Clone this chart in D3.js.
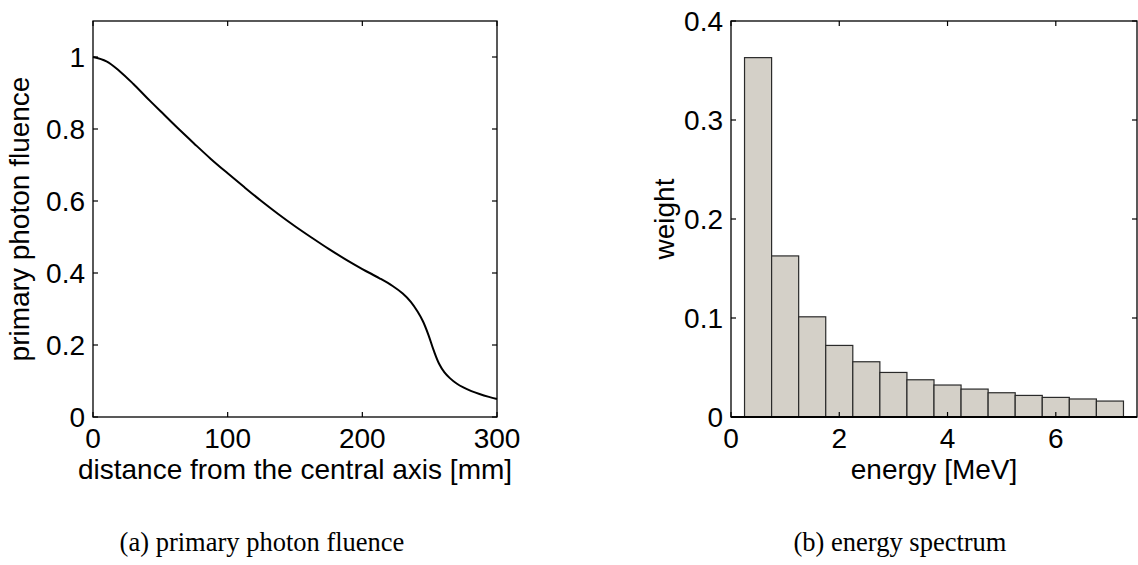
<!DOCTYPE html>
<html><head><meta charset="utf-8">
<script src="https://cdn.jsdelivr.net/npm/d3@7"></script>
<style>
body{margin:0;background:#fff;}
svg{display:block;}
</style></head>
<body><svg id="c" width="1138" height="565"></svg>
<script>
// ---- data: (a) primary photon fluence ----
const distance = [0, 10, 20, 30, 40, 50, 62.5, 75, 87.5, 100, 112.5, 125, 137.5, 150, 162.5, 175, 187.5, 200, 212.5, 222.5, 230, 236, 241, 245, 249, 253, 257, 261, 265, 270, 275, 281, 287, 294, 300];
const fluence  = [1.000, 0.988, 0.960, 0.925, 0.887, 0.850, 0.804, 0.760, 0.717, 0.677, 0.638, 0.600, 0.564, 0.530, 0.498, 0.467, 0.438, 0.411, 0.386, 0.364, 0.343, 0.320, 0.293, 0.266, 0.229, 0.185, 0.148, 0.124, 0.108, 0.093, 0.082, 0.072, 0.064, 0.056, 0.050];
const xTicksA = [0, 100, 200, 300];
const yTicksA = [0, 0.2, 0.4, 0.6, 0.8, 1];
// ---- data: (b) energy spectrum ----
const energy = [0.5, 1.0, 1.5, 2.0, 2.5, 3.0, 3.5, 4.0, 4.5, 5.0, 5.5, 6.0, 6.5, 7.0];
const weight = [0.363, 0.1627, 0.1012, 0.0723, 0.0558, 0.0450, 0.0376, 0.0323, 0.0282, 0.0245, 0.0218, 0.0198, 0.0182, 0.0161];
const xTicksB = [0, 2, 4, 6];
const yTicksB = [0, 0.1, 0.2, 0.3, 0.4];
const binWidth = 0.5;
const labels = {
  ax: "distance from the central axis [mm]", ay: "primary photon fluence",
  bx: "energy [MeV]", by: "weight",
  ca: "(a) primary photon fluence", cb: "(b) energy spectrum"
};

const svg = d3.select("#c");
const tickFont = 28, labFont = 28;
const plotTop = 21, plotBottom = 417;
const SANS = "Liberation Sans, Arial, sans-serif";

function frame(g, x, y, xt, yt, fmtY){
  const [x0,x1] = x.range(), [y0,y1] = y.range();
  const tl = 5;
  xt.forEach(v=>{
    g.append("line").attr("x1",x(v)).attr("x2",x(v)).attr("y1",y0).attr("y2",y0-tl).attr("stroke","#000").attr("stroke-width",1.2);
    g.append("line").attr("x1",x(v)).attr("x2",x(v)).attr("y1",y1).attr("y2",y1+tl).attr("stroke","#000").attr("stroke-width",1.2);
    g.append("text").attr("x",x(v)).attr("y",y0+31).attr("text-anchor","middle")
      .attr("font-family",SANS).attr("font-size",tickFont).text(v);
  });
  yt.forEach(v=>{
    g.append("line").attr("x1",x0).attr("x2",x0+tl).attr("y1",y(v)).attr("y2",y(v)).attr("stroke","#000").attr("stroke-width",1.2);
    g.append("line").attr("x1",x1).attr("x2",x1-tl).attr("y1",y(v)).attr("y2",y(v)).attr("stroke","#000").attr("stroke-width",1.2);
    g.append("text").attr("x",x0-8).attr("y",y(v)+10).attr("text-anchor","end")
      .attr("font-family",SANS).attr("font-size",tickFont).text(fmtY(v));
  });
  g.append("rect").attr("x",x0).attr("y",y1).attr("width",x1-x0).attr("height",y0-y1)
    .attr("fill","none").attr("stroke","#000").attr("stroke-width",1.3);
}
const fmt = v => String(v);

// ---- panel (a) ----
const xA = d3.scaleLinear().domain([0,300]).range([93,497]);
const yA = d3.scaleLinear().domain([0,1.1]).range([plotBottom,plotTop]);
const gA = svg.append("g");
const pts = distance.map((d,i)=>[d,fluence[i]]);
gA.append("path").datum(pts)
  .attr("d", d3.line().x(d=>xA(d[0])).y(d=>yA(d[1])).curve(d3.curveCatmullRom.alpha(0.5)))
  .attr("fill","none").attr("stroke","#000").attr("stroke-width",2);
frame(gA, xA, yA, xTicksA, yTicksA, fmt);
gA.append("text").attr("x",(93+497)/2).attr("y",479).attr("text-anchor","middle")
  .attr("font-family",SANS).attr("font-size",labFont).text(labels.ax);
gA.append("text").attr("transform",`translate(29,${(plotTop+plotBottom)/2}) rotate(-90)`).attr("text-anchor","middle")
  .attr("font-family",SANS).attr("font-size",labFont).text(labels.ay);

// ---- panel (b) ----
const xB = d3.scaleLinear().domain([0,7.5]).range([731,1137]);
const yB = d3.scaleLinear().domain([0,0.4]).range([plotBottom,plotTop]);
const gB = svg.append("g");
gB.selectAll("rect.bar").data(energy).join("rect").attr("class","bar")
  .attr("x",(d)=>xB(d-binWidth/2)).attr("width",(d)=>xB(d+binWidth/2)-xB(d-binWidth/2))
  .attr("y",(d,i)=>yB(weight[i])).attr("height",(d,i)=>yB(0)-yB(weight[i]))
  .attr("fill","#d4d0c8").attr("stroke","#2a2a2a").attr("stroke-width",1.2);
frame(gB, xB, yB, xTicksB, yTicksB, v=>v===0?"0":d3.format(".1f")(v));
gB.append("line").attr("x1",xB(0)).attr("x2",xB(7.5)).attr("y1",yB(0)).attr("y2",yB(0)).attr("stroke","#000").attr("stroke-width",2);
gB.append("text").attr("x",(731+1137)/2).attr("y",479).attr("text-anchor","middle")
  .attr("font-family",SANS).attr("font-size",labFont).text(labels.bx);
gB.append("text").attr("transform",`translate(674,${(plotTop+plotBottom)/2}) rotate(-90)`).attr("text-anchor","middle")
  .attr("font-family",SANS).attr("font-size",labFont).text(labels.by);

// ---- captions ----
svg.append("text").attr("x",262).attr("y",551).attr("text-anchor","middle")
  .attr("font-family","Liberation Serif, serif").attr("font-size",26.5).text(labels.ca);
svg.append("text").attr("x",900).attr("y",551).attr("text-anchor","middle")
  .attr("font-family","Liberation Serif, serif").attr("font-size",26.5).text(labels.cb);
</script></body></html>
